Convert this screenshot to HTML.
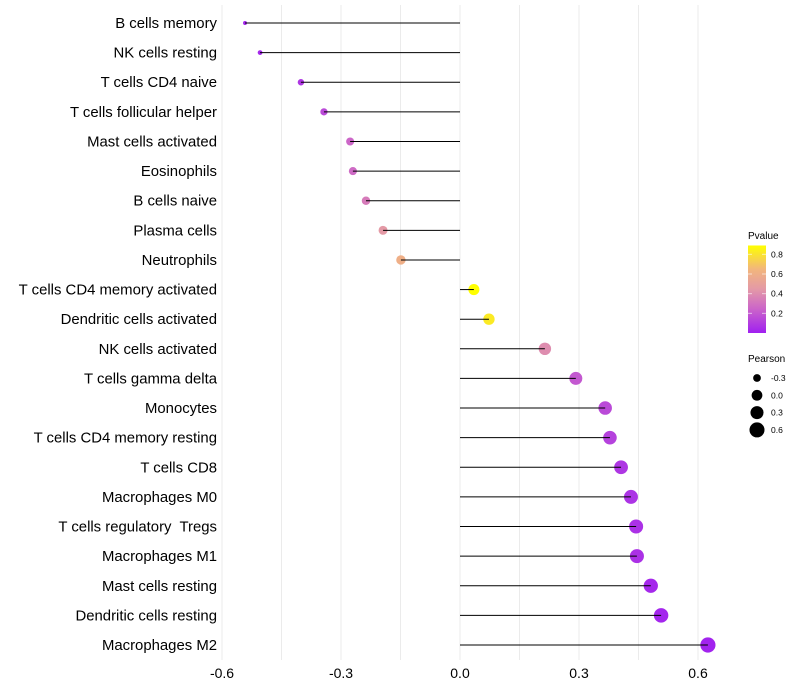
<!DOCTYPE html>
<html><head><meta charset="utf-8"><style>
body{margin:0;background:#fff;font-family:"Liberation Sans",sans-serif;}
svg{display:block}
text{white-space:pre}
</style></head><body>
<svg id="chart" width="800" height="700"></svg>
<script>
const categories=["B cells memory","NK cells resting","T cells CD4 naive","T cells follicular helper","Mast cells activated","Eosinophils","B cells naive","Plasma cells","Neutrophils","T cells CD4 memory activated","Dendritic cells activated","NK cells activated","T cells gamma delta","Monocytes","T cells CD4 memory resting","T cells CD8","Macrophages M0","T cells regulatory  Tregs","Macrophages M1","Mast cells resting","Dendritic cells resting","Macrophages M2"];
const pearson=[-0.542,-0.504,-0.401,-0.343,-0.277,-0.27,-0.237,-0.194,-0.149,0.035,0.073,0.214,0.292,0.366,0.378,0.406,0.431,0.444,0.446,0.481,0.507,0.625];
const pvalues=[0.02,0.03,0.08,0.15,0.25,0.27,0.33,0.45,0.6,0.89,0.82,0.4,0.2,0.15,0.12,0.08,0.07,0.06,0.06,0.03,0.02,0.01];
const xTicks=[-0.6,-0.3,0,0.3,0.6];
const xTickLabels=["-0.6","-0.3","0.0","0.3","0.6"];
const pTicks=[0.2,0.4,0.6,0.8];
const sizeBreaks=[-0.3,0,0.3,0.6];

const NS="http://www.w3.org/2000/svg";
const svg=document.getElementById('chart');
function mk(tag,attrs,parent){const e=document.createElementNS(NS,tag);for(const k in attrs)e.setAttribute(k,attrs[k]);(parent||svg).appendChild(e);return e;}
const x=v=>460+v*(119/0.3);
const y=i=>23+i*(622/21);
const r=v=>Math.sqrt(Math.max(2.5,4+(v+0.54)*46));
function hex(c){return [parseInt(c.slice(1,3),16),parseInt(c.slice(3,5),16),parseInt(c.slice(5,7),16)];}
const stops=[[0,"#a020f0"],[0.25,"#cc66c8"],[0.45,"#e49aa6"],[0.65,"#f2b67c"],[0.89,"#ffff00"]];
function col(p){p=Math.max(0,Math.min(0.89,p));for(let i=0;i<stops.length-1;i++){const[a,ca]=stops[i],[b,cb]=stops[i+1];if(p<=b){const t=(p-a)/(b-a),A=hex(ca),B=hex(cb);return`rgb(${A.map((v,k)=>Math.round(v+(B[k]-v)*t)).join(',')})`;}}return stops[stops.length-1][1];}

for(let v=-0.6;v<=0.601;v+=0.15){const l=mk('line',{x1:x(v),x2:x(v),y1:5,y2:660,stroke:'#ebebeb','stroke-width':1});}
xTicks.forEach((v,i)=>{const t=mk('text',{x:x(v),y:678,'text-anchor':'middle','font-size':14,fill:'#000'});t.textContent=xTickLabels[i];});
categories.forEach((c,i)=>{
 const t=mk('text',{x:217,y:y(i)+5,'text-anchor':'end','font-size':14.9,fill:'#000'});t.textContent=c;
 
 
 const v=pearson[i];
 const d=mk('circle',{cx:x(v),cy:y(i),r:r(v),fill:col(pvalues[i])});
 
 
 const l=mk('line',{x1:x(v),x2:x(0),y1:y(i),y2:y(i),stroke:'#000','stroke-width':1});
 
 
});
const g=mk('g',{});
let tt=mk('text',{x:748,y:239,'font-size':10},g);tt.textContent='Pvalue';
const defs=mk('defs',{});const lg=mk('linearGradient',{id:'pg',x1:0,y1:1,x2:0,y2:0},defs);
stops.forEach(s=>mk('stop',{offset:s[0]/0.89,'stop-color':s[1]},lg));
const by=p=>333-p*(59/0.6);
mk('rect',{x:748,y:by(0.89),width:18,height:by(0)-by(0.89),fill:'url(#pg)'},g);
pTicks.forEach(p=>{mk('line',{x1:748,x2:752,y1:by(p),y2:by(p),stroke:'#fff','stroke-opacity':0.6},g);mk('line',{x1:762,x2:766,y1:by(p),y2:by(p),stroke:'#fff','stroke-opacity':0.6},g);const t=mk('text',{x:771,y:by(p)+3,'font-size':8.5},g);t.textContent=p.toFixed(1);});
const g2=mk('g',{});
tt=mk('text',{x:748,y:362,'font-size':10},g2);tt.textContent='Pearson';
sizeBreaks.forEach((v,i)=>{const cy=378+i*17.3;mk('circle',{cx:757,cy:cy,r:r(v),fill:'#000'},g2);const t=mk('text',{x:771,y:cy+3,'font-size':8.5},g2);t.textContent=v.toFixed(1);});
</script>
</body></html>
